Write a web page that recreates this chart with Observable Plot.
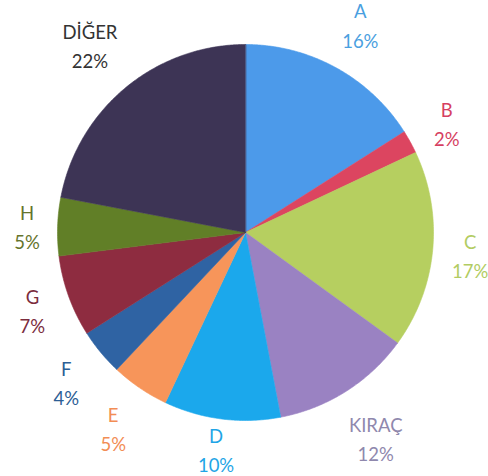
<!DOCTYPE html>
<html>
<head>
<meta charset="utf-8">
<script src="https://cdn.jsdelivr.net/npm/d3@7"></script>
<script src="https://cdn.jsdelivr.net/npm/@observablehq/plot@0.6"></script>
<style>
  html, body { margin: 0; padding: 0; background: #fff; }
  #chart svg { display: block; }
</style>
</head>
<body>
<div id="chart"></div>
<script>
const categories = ["A", "B", "C", "KIRAÇ", "D", "E", "F", "G", "H", "DİĞER"];
const values = [16, 2, 17, 12, 10, 5, 4, 7, 5, 22];
const fillColors = ["#4c9aea", "#dc4560", "#b6cf60", "#9a82c2", "#1ba8ec", "#f7955a", "#2f63a3", "#8e2c40", "#617f27", "#3d3455"];
const labelColors = ["#4a9fe0", "#d63f62", "#b2cc62", "#8f88ad", "#1fa5e6", "#f28d55", "#2c5e95", "#7b2c3d", "#65742c", "#333333"];

const W = 488, H = 476;
const cx = 245, cy = 232, R = 188;
const FONT_SIZE = 18.5;
const FONT = "Lato, 'Open Sans', sans-serif";

const total = d3.sum(values);
let acc = 0;
const slices = categories.map((c, i) => {
  const a0 = acc / total * 2 * Math.PI;
  acc += values[i];
  const a1 = acc / total * 2 * Math.PI;
  return {name: c, value: values[i], a0, a1, i};
});

function pt(a, r) { return [cx + r * Math.sin(a), cy - r * Math.cos(a)]; }

const features = slices.map(s => {
  const ring = [[cx, cy]];
  const n = Math.max(2, Math.ceil((s.a1 - s.a0) / (Math.PI / 360)));
  for (let k = 0; k <= n; k++) ring.push(pt(s.a0 + (s.a1 - s.a0) * k / n, R));
  ring.push([cx, cy]);
  return {type: "Feature", properties: {name: s.name, i: s.i}, geometry: {type: "Polygon", coordinates: [ring]}};
});

const ctx = document.createElement("canvas").getContext("2d");
ctx.font = `${FONT_SIZE}px ${FONT}`;

const labels = slices.map(s => {
  const mid = (s.a0 + s.a1) / 2;
  const lines = [s.name, `${s.value}%`];
  const w = d3.max(lines, t => ctx.measureText(t).width);
  const dist = 205 + 28 * Math.abs(Math.cos(mid)) + (w / 2) * Math.abs(Math.sin(mid));
  let [x, y] = pt(mid, dist);
  y = Math.min(y, 448);
  return {x, y, text: lines.join("\n"), color: labelColors[s.i]};
});

const chart = Plot.plot({
  width: W,
  height: H,
  margin: 0,
  projection: {type: "identity"},
  style: {background: "#fff"},
  marks: [
    Plot.geo(features, {
      fill: d => fillColors[d.properties.i],
      stroke: d => fillColors[d.properties.i],
      strokeWidth: 0.6
    }),
    Plot.text(labels, {
      x: "x", y: "y", text: "text",
      fill: d => d.color,
      fontSize: FONT_SIZE,
      fontFamily: FONT,
      lineHeight: 1.57,
      textAnchor: "middle",
      lineAnchor: "middle"
    })
  ]
});
document.getElementById("chart").appendChild(chart);
</script>
</body>
</html>
